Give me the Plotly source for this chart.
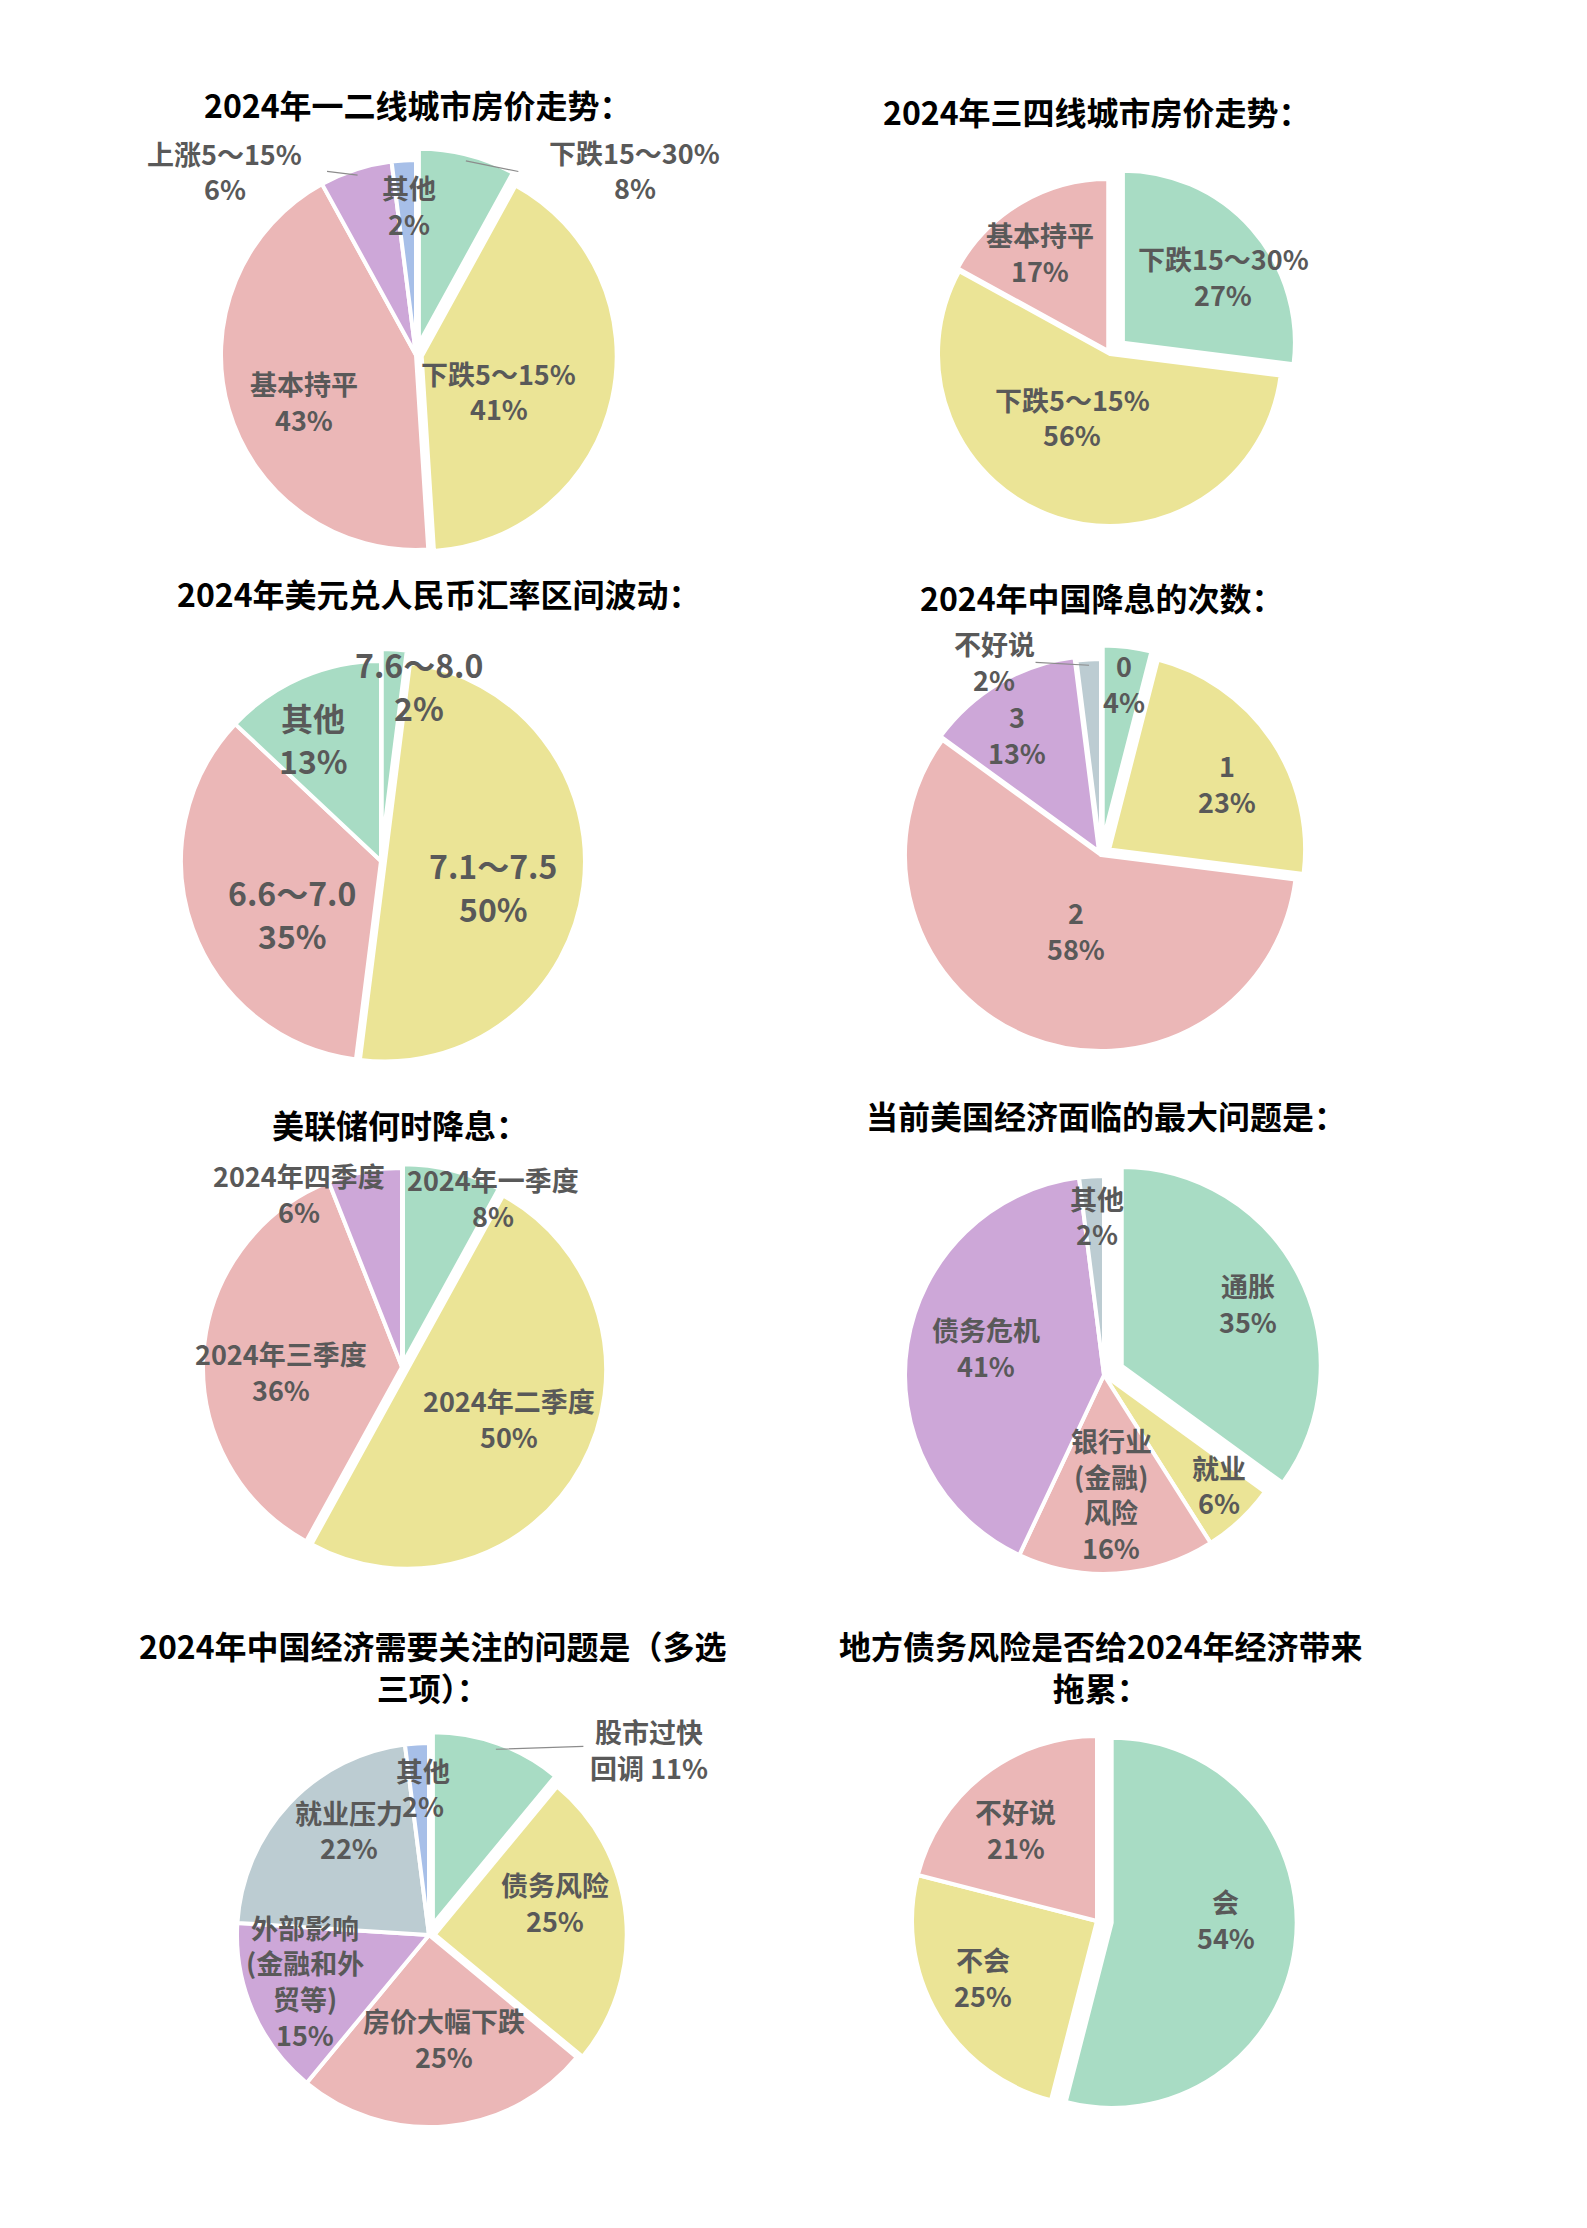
import math
import plotly.graph_objects as go

W, H = 1587, 2228
FONT = "Noto Sans CJK SC"
TXT = "#595959"

GREEN = "#A8DCC4"
YELLOW = "#EBE496"
PINK = "#EBB7B7"
PURPLE = "#CDA7D8"
BLUE = "#A7BFE8"
GREYB = "#BCCCD2"

# ---------------- data ----------------
c1_title = "2024年一二线城市房价走势："
c1_labels = ["下跌15～30%", "下跌5～15%", "基本持平", "上涨5～15%", "其他"]
c1_values = [8, 41, 43, 6, 2]

c2_title = "2024年三四线城市房价走势："
c2_labels = ["下跌15～30%", "下跌5～15%", "基本持平"]
c2_values = [27, 56, 17]

c3_title = "2024年美元兑人民币汇率区间波动："
c3_labels = ["7.6～8.0", "7.1～7.5", "6.6～7.0", "其他"]
c3_values = [2, 50, 35, 13]

c4_title = "2024年中国降息的次数："
c4_labels = ["0", "1", "2", "3", "不好说"]
c4_values = [4, 23, 58, 13, 2]

c5_title = "美联储何时降息："
c5_labels = ["2024年一季度", "2024年二季度", "2024年三季度", "2024年四季度"]
c5_values = [8, 50, 36, 6]

c6_title = "当前美国经济面临的最大问题是："
c6_labels = ["通胀", "就业", "银行业<br>(金融)<br>风险", "债务危机", "其他"]
c6_values = [35, 6, 16, 41, 2]

c7_title = "2024年中国经济需要关注的问题是（多选<br>三项）："
c7_labels = ["股市过快<br>回调", "债务风险", "房价大幅下跌", "外部影响<br>(金融和外<br>贸等)", "就业压力", "其他"]
c7_values = [11, 25, 25, 15, 22, 2]

c8_title = "地方债务风险是否给2024年经济带来<br>拖累："
c8_labels = ["会", "不会", "不好说"]
c8_values = [54, 25, 21]

# ---------------- styling / layout ----------------
# label placement per slice:
#   ("in", dx, dy)            nudge from the mid-angle point inside the slice
#   ("out", lx, ly, tx, ty)   leader line end and text centre, offsets from the slice edge
charts = [
    dict(labels=c1_labels, values=c1_values, title=c1_title,
         colors=[GREEN, YELLOW, PINK, PURPLE, BLUE],
         pull=[0.06, 0.03, 0.0, 0.0, 0.0],
         place=[("out", 54, 11, 169, 9), ("in", -37, 9), ("in", 0, 14),
                ("out", -32, -4, -133, -4), ("in", 0, -33)],
         sep=["<br>"] * 5,
         center=(416, 355), r=195, tpos=(418, 104), fs=27),
    dict(labels=c2_labels, values=c2_values, title=c2_title,
         colors=[GREEN, YELLOW, PINK],
         pull=[0.1, 0.0, 0.02],
         place=[("in", 23, 2), ("in", -6, -35), ("in", -16, -10)],
         sep=["<br>"] * 3,
         center=(1110, 354), r=172, tpos=(1097, 111), fs=27),
    dict(labels=c3_labels, values=c3_values, title=c3_title,
         colors=[GREEN, YELLOW, PINK, GREEN],
         pull=[0.06, 0.02, 0.0, 0.0],
         place=[("in", 30, -44), ("in", -11, 10), ("in", 24, 12), ("in", -20, -12)],
         sep=["<br>"] * 4,
         center=(381, 861), r=200, tpos=(439, 593), fs=32),
    dict(labels=c4_labels, values=c4_values, title=c4_title,
         colors=[GREEN, YELLOW, PINK, PURPLE, GREYB],
         pull=[0.07, 0.05, 0.0, 0.02, 0.0],
         place=[("in", 7, -41), ("in", 21, 0), ("in", 18, -34), ("in", -22, -16),
                ("out", -55, -3, -95, -4)],
         sep=["<br>"] * 5,
         center=(1101, 855), r=196, tpos=(1102, 597), fs=27),
    dict(labels=c5_labels, values=c5_values, title=c5_title,
         colors=[GREEN, YELLOW, PINK, PURPLE],
         pull=[0.02, 0.03, 0.0, 0.0],
         place=[("in", 60, -50), ("in", -3, -9), ("in", -2, 12), ("in", -81, -56)],
         sep=["<br>"] * 4,
         center=(402, 1367), r=199, tpos=(400, 1124), fs=27),
    dict(labels=c6_labels, values=c6_values, title=c6_title,
         colors=[GREEN, YELLOW, PINK, PURPLE, GREYB],
         pull=[0.1, 0.0, 0.0, 0.0, 0.0],
         place=[("in", 20, -8), ("in", 33, 23), ("in", 0, 0), ("in", 0, -9), ("in", 0, -40)],
         sep=["<br>"] * 5,
         center=(1104, 1375), r=199, tpos=(1106, 1115), fs=27),
    dict(labels=c7_labels, values=c7_values, title=c7_title,
         colors=[GREEN, YELLOW, PINK, PURPLE, GREYB, BLUE],
         pull=[0.06, 0.03, 0.0, 0.0, 0.0, 0.0],
         place=[("out", 89, -3, 153, 0), ("in", 6, -21), ("in", 4, -11), ("in", -18, 0),
                ("in", 4, -26), ("in", 1, -32)],
         sep=[" "] + ["<br>"] * 5,
         center=(429, 1935), r=192, tpos=(433, 1666), fs=27),
    dict(labels=c8_labels, values=c8_values, title=c8_title,
         colors=[GREEN, YELLOW, PINK],
         pull=[0.08, 0.0, 0.0],
         place=[("in", 4, -17), ("in", -18, 0), ("in", -13, -4)],
         sep=["<br>"] * 3,
         center=(1097, 1921), r=185, tpos=(1101, 1666), fs=27),
]

fig = go.Figure()
annotations = []


def add_text_block(text, px, py, fs):
    lines = text.split("<br>")
    lh = max(1.3 * fs, 1.448 * fs - 3.5)
    n = len(lines)
    for i, ln in enumerate(lines):
        yy = py + (i - (n - 1) / 2) * lh
        annotations.append(dict(
            text="<b>" + ln + "</b>", x=px / W, y=1 - yy / H,
            xref="paper", yref="paper", showarrow=False,
            xanchor="center", yanchor="middle", align="center",
            font=dict(family=FONT, size=fs, color=TXT)))


for ch in charts:
    cx, cy = ch["center"]
    r = ch["r"]
    d = r * (1 + max(ch["pull"]))
    domain = dict(x=[(cx - d) / W, (cx + d) / W],
                  y=[1 - (cy + d) / H, 1 - (cy - d) / H])
    fig.add_trace(go.Pie(
        labels=ch["labels"], values=ch["values"], sort=False,
        direction="clockwise", rotation=0,
        pull=ch["pull"], domain=domain,
        marker=dict(colors=ch["colors"], line=dict(color="white", width=4)),
        textinfo="none",
        showlegend=False, hoverinfo="label+value",
    ))
    # slice labels placed from each slice's mid-angle (computed from the data)
    total = sum(ch["values"])
    cum = 0.0
    for lab, val, pull, pl, sep in zip(ch["labels"], ch["values"], ch["pull"],
                                       ch["place"], ch["sep"]):
        mid = (cum + val / 2) / total * 2 * math.pi
        cum += val
        ux, uy = math.sin(mid), -math.cos(mid)
        text = lab + sep + f"{val}%"
        if pl[0] == "in":
            rf = 0.6 + pull
            px = cx + rf * r * ux + pl[1]
            py = cy + rf * r * uy + pl[2]
            add_text_block(text, px, py, ch["fs"])
        else:
            rf = (1 + pull) * 0.97
            px = cx + rf * r * ux
            py = cy + rf * r * uy
            annotations.append(dict(
                text="", x=px / W, y=1 - py / H, xref="paper", yref="paper",
                showarrow=True, arrowhead=0, arrowwidth=1.2, arrowcolor="#8C8C8C",
                ax=pl[1], ay=pl[2], axref="pixel", ayref="pixel"))
            add_text_block(text, px + pl[3], py + pl[4], ch["fs"])
    tx, ty = ch["tpos"]
    annotations.append(dict(
        text="<b>" + ch["title"] + "</b>", x=tx / W, y=1 - ty / H,
        xref="paper", yref="paper", showarrow=False,
        xanchor="center", yanchor="middle", align="center",
        font=dict(family=FONT, size=32, color="black"),
    ))

fig.update_layout(
    width=W, height=H,
    margin=dict(l=0, r=0, t=0, b=0),
    paper_bgcolor="white", plot_bgcolor="white",
    annotations=annotations,
)

fig.write_html("out.html")
